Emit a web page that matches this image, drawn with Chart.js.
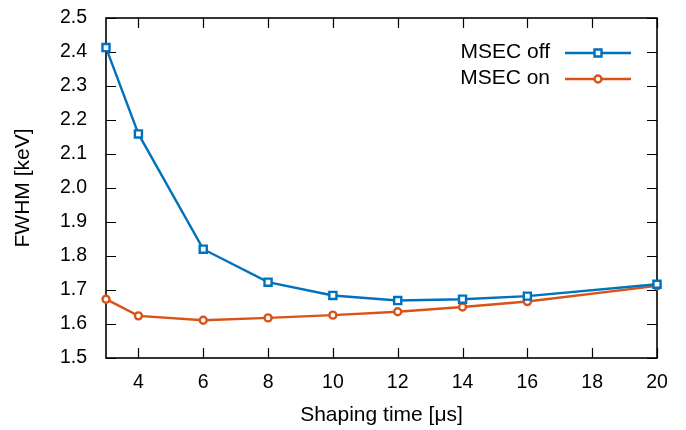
<!DOCTYPE html>
<html>
<head>
<meta charset="utf-8">
<script src="https://cdn.jsdelivr.net/npm/chart.js@4/dist/chart.umd.min.js"></script>
<style>
html,body{margin:0;padding:0;background:#fff;}
#wrap{width:686px;height:430px;position:relative;}
</style>
</head>
<body>
<div id="wrap"><canvas id="c" width="686" height="430"></canvas></div>
<script>
const shapingTimes = [3, 4, 6, 8, 10, 12, 14, 16, 20];
const msecOff = [2.413, 2.159, 1.820, 1.723, 1.684, 1.669, 1.673, 1.682, 1.717];
const msecOn  = [1.673, 1.624, 1.611, 1.618, 1.626, 1.636, 1.650, 1.666, 1.712];
const xTickValues = [4, 6, 8, 10, 12, 14, 16, 18, 20];
const yTickValues = [1.5, 1.6, 1.7, 1.8, 1.9, 2.0, 2.1, 2.2, 2.3, 2.4, 2.5];
const seriesNames = ['MSEC off', 'MSEC on'];
const colors = ['#0072bd', '#d95319'];
const FONT = '"Liberation Sans", Arial, sans-serif';

const framePlugin = {
  id: 'frame',
  beforeDatasetsDraw(chart) {
    const {ctx, chartArea: a, scales} = chart;
    ctx.save();
    ctx.strokeStyle = '#000';
    ctx.lineWidth = 1.2;
    const L = 10;
    ctx.beginPath();
    scales.x.ticks.forEach(t => {
      const px = Math.round(scales.x.getPixelForValue(t.value)) + 0.5;
      ctx.moveTo(px, a.bottom); ctx.lineTo(px, a.bottom - L);
      ctx.moveTo(px, a.top); ctx.lineTo(px, a.top + L);
    });
    scales.y.ticks.forEach(t => {
      const py = Math.round(scales.y.getPixelForValue(t.value)) + 0.5;
      ctx.moveTo(a.left, py); ctx.lineTo(a.left + L, py);
      ctx.moveTo(a.right, py); ctx.lineTo(a.right - L, py);
    });
    ctx.stroke();
    ctx.lineWidth = 1.6;
    ctx.strokeRect(a.left, a.top, a.right - a.left, a.bottom - a.top);
    // legend
    ctx.font = '21px ' + FONT;
    ctx.textAlign = 'right';
    ctx.textBaseline = 'alphabetic';
    const rows = [53, 79];
    chart.data.datasets.forEach((ds, i) => {
      const y = rows[i];
      ctx.fillStyle = '#000';
      ctx.fillText(ds.label, 550, y + 5);
      ctx.strokeStyle = ds.borderColor;
      ctx.lineWidth = 2.4;
      ctx.beginPath(); ctx.moveTo(565, y); ctx.lineTo(631, y); ctx.stroke();
      ctx.fillStyle = '#fff';
      ctx.beginPath();
      if (ds.pointStyle === 'rect') {
        ctx.rect(598 - 3.5, y - 3.5, 7, 7);
      } else {
        ctx.arc(598, y, 3.5, 0, Math.PI * 2);
      }
      ctx.fill(); ctx.stroke();
    });
    ctx.restore();
  }
};

new Chart(document.getElementById('c'), {
  type: 'line',
  data: {
    datasets: [
      {
        label: seriesNames[0],
        data: shapingTimes.map((x, i) => ({x, y: msecOff[i]})),
        borderColor: colors[0], backgroundColor: '#fff', clip: false,
        borderWidth: 2.4, pointStyle: 'rect', pointRadius: 5,
        pointBorderWidth: 2.4, pointBackgroundColor: '#fff', pointBorderColor: colors[0]
      },
      {
        label: seriesNames[1],
        data: shapingTimes.map((x, i) => ({x, y: msecOn[i]})),
        borderColor: colors[1], backgroundColor: '#fff', clip: false,
        borderWidth: 2.4, pointStyle: 'circle', pointRadius: 3.5,
        pointBorderWidth: 2.4, pointBackgroundColor: '#fff', pointBorderColor: colors[1]
      }
    ]
  },
  options: {
    responsive: false,
    animation: false,
    layout: {padding: {left: 0, right: 29, top: 18, bottom: 0}},
    plugins: {legend: {display: false}, tooltip: {enabled: false}},
    scales: {
      x: {
        type: 'linear', min: 3, max: 20,
        afterBuildTicks: s => { s.ticks = xTickValues.map(v => ({value: v})); },
        afterFit: s => { s.height = 72; s.paddingLeft = 0; s.paddingRight = 0; },
        grid: {display: false},
        border: {display: false},
        ticks: {color: '#000', font: {family: FONT, size: 19.5}, padding: 5, maxRotation: 0,
                callback: v => String(v)},
        title: {display: true, text: 'Shaping time [μs]', color: '#000',
                font: {family: FONT, size: 21}, padding: {top: 4, bottom: 2}}
      },
      y: {
        type: 'linear', min: 1.5, max: 2.5,
        afterBuildTicks: s => { s.ticks = yTickValues.map(v => ({value: v})); },
        afterFit: s => { s.width = 106; s.paddingTop = 0; s.paddingBottom = 0; },
        grid: {display: false},
        border: {display: false},
        ticks: {color: '#000', font: {family: FONT, size: 19.5}, padding: 11,
                callback: v => Number(v).toFixed(1)},
        title: {display: true, text: 'FWHM [keV]', color: '#000',
                font: {family: FONT, size: 21}, padding: {top: 11, bottom: 0}}
      }
    }
  },
  plugins: [framePlugin]
});
</script>
</body>
</html>
